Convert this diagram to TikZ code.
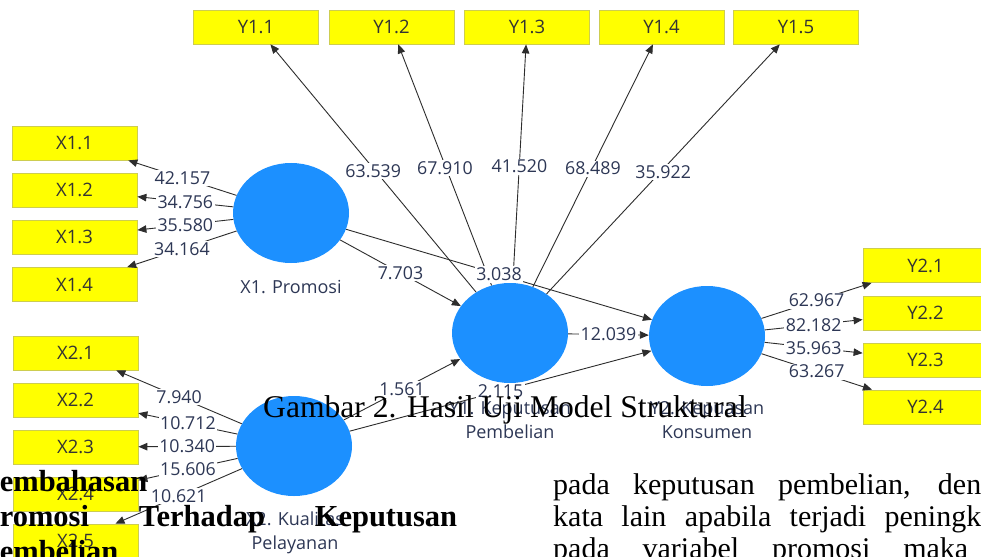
\documentclass[tikz,border=0pt]{standalone}
\usepackage{fontspec}
\setmainfont{Liberation Serif}
\newfontfamily\plsfont{Open Sans}
\usetikzlibrary{shapes.geometric,arrows.meta}

\definecolor{lvblue}{RGB}{28,144,255}
\definecolor{mvyellow}{RGB}{255,255,0}
\definecolor{mvborder}{RGB}{205,205,80}
\definecolor{wtext}{RGB}{45,55,85}
\definecolor{edgegray}{RGB}{45,45,45}

\begin{document}
\begin{tikzpicture}[x=1pt,y=-1pt,
  latent/.style={ellipse, fill=lvblue, minimum width=116pt, minimum height=100pt, inner sep=0pt},
  indicator/.style={rectangle, fill=mvyellow, draw=mvborder, line width=0.8pt,
    minimum width=125pt, minimum height=34pt, inner sep=0pt,
    font=\plsfont\fontsize{18.5}{20}\selectfont, text=black!80},
  link/.style={draw=edgegray, line width=0.9pt, -{Triangle[length=9pt,width=7.5pt]}},
  weight/.style={fill=white, inner sep=1.5pt, font=\plsfont\fontsize{17.8}{20}\selectfont, text=wtext},
  lvname/.style={align=center, font=\plsfont\fontsize{18}{24}\selectfont, text=wtext},
  papertext/.style={anchor=base west, inner sep=0pt, text=black}
]
\useasboundingbox (0,0) rectangle (981,556);
\clip (0,0) rectangle (981,556);
\fill[white] (0,0) rectangle (981,556);

% latent variables
\node[latent] (x1) at (291,213) {};
\node[latent] (x2) at (294,446) {};
\node[latent] (y1) at (510,333) {};
\node[latent] (y2) at (707,336) {};

% construct names
\node[lvname] (x1n) at (291,287) {X1. Promosi};
\node[lvname] (x2n) at (295,533) {X2. Kualitas\\Pelayanan};
\node[lvname] (y1n) at (510,420) {Y1. Keputusan\\Pembelian};
\node[lvname] (y2n) at (707,420) {Y2. Kepuasan\\Konsumen};

% indicators
\foreach \i/\yy in {1/143,2/190,3/237,4/284.5}
  \node[indicator] (x1\i) at (74.5,\yy) {X1.\i};
\foreach \i/\yy in {1/353,2/400,3/447,4/494,5/541}
  \node[indicator] (x2\i) at (75.5,\yy) {X2.\i};
\foreach \i/\xx in {1/256,2/391.5,3/527,4/661.5,5/796}
  \node[indicator] (y1\i) at (\xx,27) {Y1.\i};
\foreach \i/\yy in {1/265.5,2/313,3/360,4/407}
  \node[indicator] (y2\i) at (925.5,\yy) {Y2.\i};

% connectors
\foreach \i in {1,...,4} \draw[link] (x1) -- (x1\i);
\foreach \i in {1,...,5} \draw[link] (x2) -- (x2\i);
\foreach \i in {1,...,5} \draw[link] (y1) -- (y1\i);
\foreach \i in {1,...,4} \draw[link] (y2) -- (y2\i);
\draw[link] (x1) -- (y1);
\draw[link] (x1) -- (y2);
\draw[link] (x2) -- (y1);
\draw[link] (x2) -- (y2);
\draw[link] (y1) -- (y2);

% t-values
\foreach \i/\v in {1/42.157,2/34.756,3/35.580,4/34.164}
  \path (x1) -- (x1\i) node[weight,midway] {\v};
\foreach \i/\v in {1/7.940,2/10.712,3/10.340,4/15.606,5/10.621}
  \path (x2) -- (x2\i) node[weight,midway] {\v};
\foreach \i/\v in {1/63.539,2/67.910,3/41.520,4/68.489,5/35.922}
  \path (y1) -- (y1\i) node[weight,midway,yshift=-3pt] {\v};
\foreach \i/\v in {1/62.967,2/82.182,3/35.963,4/63.267}
  \path (y2) -- (y2\i) node[weight,midway] {\v};
\path (x1) -- (y1) node[weight,midway] {7.703};
\path (x1) -- (y2) node[weight,midway] {3.038};
\path (x2) -- (y1) node[weight,midway] {1.561};
\path (x2) -- (y2) node[weight,midway] {2.115};
\path (y1) -- (y2) node[weight,midway] {12.039};

% caption and surrounding page text
\node[papertext, font=\fontsize{31.6}{31}\selectfont] (cap) at (263,417) {Gambar 2. Hasil Uji Model Struktural};
\node[papertext, font=\bfseries\fontsize{30.5}{31}\selectfont] (h1) at (-19,491) {Pembahasan};
\node[papertext, font=\bfseries\fontsize{30.5}{31}\selectfont] (h2) at (-19,526) {\makebox[476pt][s]{Promosi Terhadap Keputusan}};
\node[papertext, font=\bfseries\fontsize{30.5}{31}\selectfont] (h3) at (-19,561) {Pembelian};
\node[papertext, font=\fontsize{30}{31}\selectfont] (p1) at (553,494) {\makebox[428pt][s]{pada keputusan pembelian, den}};
\node[papertext, font=\fontsize{30}{31}\selectfont] (p2) at (553,526) {\makebox[428pt][s]{kata lain apabila terjadi peningk}};
\node[papertext, font=\fontsize{30}{31}\selectfont] (p3) at (553,558) {\makebox[415pt][s]{pada variabel promosi maka}};
\end{tikzpicture}
\end{document}
